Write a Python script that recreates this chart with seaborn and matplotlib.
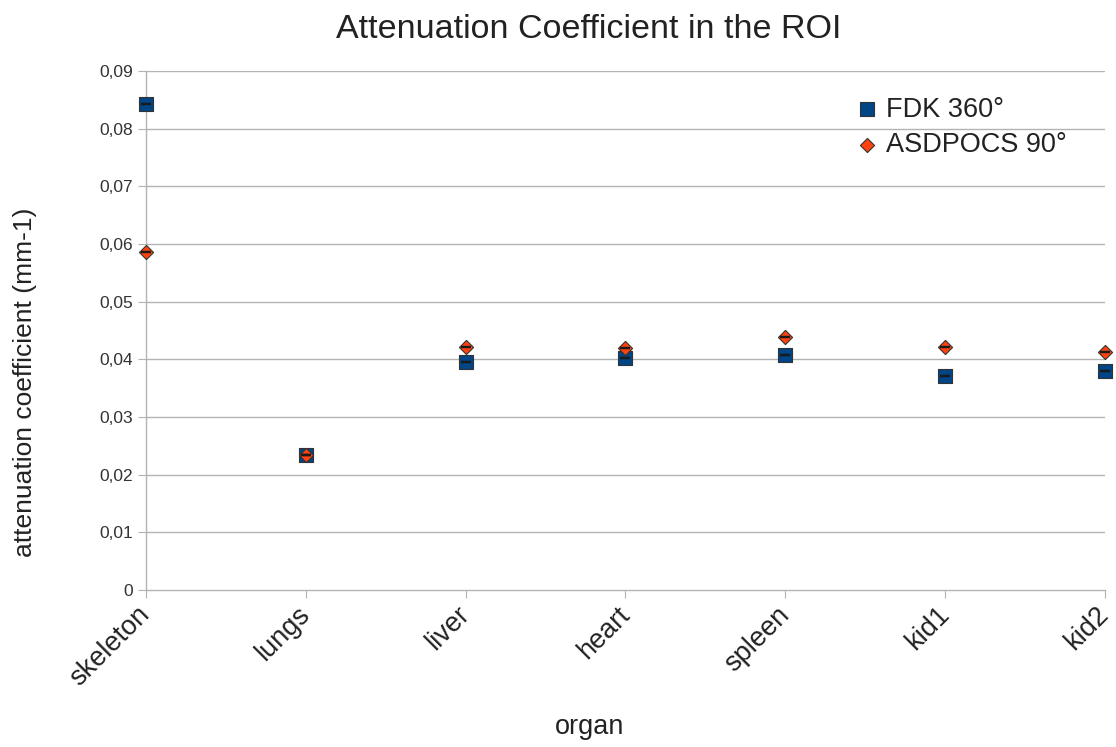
import pandas as pd
import numpy as np
import matplotlib
matplotlib.use("Agg")
import matplotlib.pyplot as plt
import seaborn as sns
from matplotlib.ticker import FuncFormatter

organs = ["skeleton", "lungs", "liver", "heart", "spleen", "kid1", "kid2"]
fdk_360 = [0.0843, 0.0234, 0.0395, 0.0402, 0.0407, 0.0371, 0.0380]
asdpocs_90 = [0.0586, 0.0234, 0.0421, 0.0420, 0.0439, 0.0421, 0.0413]
y_ticks = [0, 0.01, 0.02, 0.03, 0.04, 0.05, 0.06, 0.07, 0.08, 0.09]

sns.set_style("white")
plt.rcParams["font.family"] = ["Liberation Sans", "DejaVu Sans"]

df = pd.DataFrame({
    "organ": organs * 2,
    "pos": list(range(len(organs))) * 2,
    "value": fdk_360 + asdpocs_90,
    "series": ["FDK 360°"] * len(organs) + ["ASDPOCS 90°"] * len(organs),
})

fig = plt.figure(figsize=(11.16, 7.47), dpi=100)
ax = fig.add_axes([0.1308, 0.2102, 0.8593, 0.6948])

grid_col = "#b3b3b3"
for t in y_ticks[1:]:
    ax.axhline(t, color=grid_col, lw=1, zorder=0)

colors = {"FDK 360°": "#004586", "ASDPOCS 90°": "#ff420e"}
markers = {"FDK 360°": "s", "ASDPOCS 90°": "D"}
sizes = {"FDK 360°": 110, "ASDPOCS 90°": 52}
caps = {"FDK 360°": 3.8, "ASDPOCS 90°": 3.3}

for name in ["FDK 360°", "ASDPOCS 90°"]:
    sub = df[df["series"] == name]
    sns.scatterplot(data=sub, x="pos", y="value", ax=ax, color=colors[name],
                    marker=markers[name], s=sizes[name], edgecolor="#333333",
                    linewidth=0.8, label=name, clip_on=False, zorder=3)
    # tiny error bars, seen as dashes through the markers
    ax.errorbar(sub["pos"], sub["value"], yerr=0.00002, fmt="none",
                ecolor="#1a1a1a", elinewidth=1, capsize=caps[name],
                capthick=1.6, zorder=4, clip_on=False)

ax.set_xlim(0, len(organs) - 1)
ax.set_ylim(0, 0.09)
ax.set_yticks(y_ticks)
ax.yaxis.set_major_formatter(FuncFormatter(
    lambda v, p: "0" if v == 0 else f"{v:.2f}".replace(".", ",")))
ax.set_xticks(range(len(organs)))
ax.set_xticklabels(organs, rotation=45, ha="right", va="center",
                   rotation_mode="anchor", fontsize=19.5, color="#222222")

for s in ["top", "right"]:
    ax.spines[s].set_visible(False)
for s in ["left", "bottom"]:
    ax.spines[s].set_color(grid_col)
    ax.spines[s].set_linewidth(1)

ax.tick_params(axis="y", length=6, color=grid_col, labelsize=12.5,
               labelcolor="#333333", left=True, pad=3)
ax.tick_params(axis="x", length=6, color=grid_col, bottom=True, pad=9)

ax.set_xlabel("")
ax.set_ylabel("")
fig.text(590 / 1116, 1 - 727 / 747, "organ", fontsize=19.5, color="#222222",
         ha="center", va="center")
fig.text(25 / 1116, 1 - 382 / 747, "attenuation coefficient (mm-1)", fontsize=19,
         color="#222222", ha="center", va="center", rotation=90)
fig.text(589 / 1116, 1 - 29 / 747, "Attenuation Coefficient in the ROI",
         fontsize=24.5, color="#222222", ha="center", va="center")

leg = ax.legend(loc="upper left", bbox_to_anchor=(837 / 1116, 1 - 83 / 747),
                bbox_transform=fig.transFigure, frameon=False,
                fontsize=19.5, handletextpad=0.1, handlelength=1.2,
                labelspacing=0.35, labelcolor="#222222", borderpad=0)

fig.savefig("out.png", dpi=100)
